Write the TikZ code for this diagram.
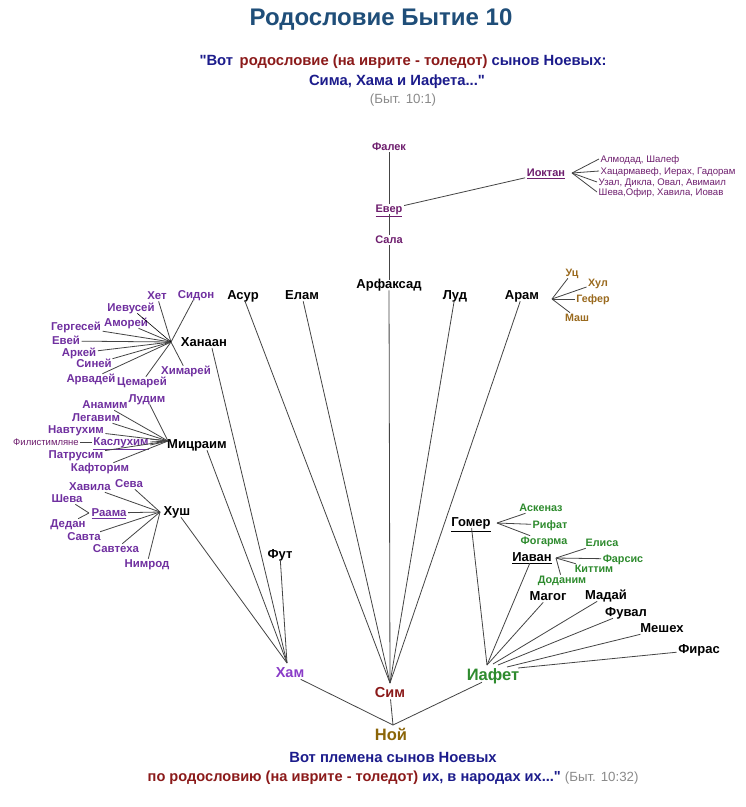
\documentclass[tikz,border=0pt]{standalone}
\usepackage{fontspec}
\setmainfont{Liberation Sans}[Ligatures=TeXOff]
\usetikzlibrary{calc}
\definecolor{titleblue}{HTML}{1F4E79}
\definecolor{navy}{HTML}{1C1C8C}
\definecolor{dred}{HTML}{8B1A1A}
\definecolor{grayt}{HTML}{8A8A8A}
\definecolor{kpur}{HTML}{7030A0}
\definecolor{hampur}{HTML}{8A3CC8}
\definecolor{mag}{HTML}{6E1E6E}
\definecolor{brn}{HTML}{9A6A1E}
\definecolor{grn}{HTML}{2E8B2E}
\definecolor{noyc}{HTML}{8B6508}
\definecolor{lnc}{HTML}{444444}
\newcommand{\dq}{{\char34}}
\begin{document}
\begin{tikzpicture}[x=1pt,y=-1pt,
 every node/.style={inner sep=1.5pt, text height=.72em, text depth=0pt},
 mainn/.style={font=\fontsize{13}{15}\selectfont\bfseries, text=black},
 kid/.style={font=\fontsize{11.4}{13}\selectfont\bfseries, text=kpur},
 semk/.style={font=\fontsize{11}{13}\selectfont\bfseries, text=mag},
 smallk/.style={font=\fontsize{9.6}{11}\selectfont, text=mag, anchor=west},
 brk/.style={font=\fontsize{10.7}{12}\selectfont\bfseries, text=brn},
 grk/.style={font=\fontsize{10.8}{12}\selectfont\bfseries, text=grn},
 sonn/.style={font=\fontsize{14.5}{17}\selectfont\bfseries},
 bigson/.style={font=\fontsize{16.5}{19}\selectfont\bfseries},
 qfont/.style={font=\fontsize{14.8}{17}\selectfont\bfseries},
 reff/.style={font=\fontsize{13.3}{15}\selectfont, text=grayt},
 conn/.style={draw=lnc, line width=0.8pt}
]
\fill[white] (0,0) rectangle (746,807);
\useasboundingbox (0,0) rectangle (746,807);

% ---------- headings ----------
\node[font=\fontsize{24}{28}\selectfont\bfseries, text=titleblue] (title) at (381,22) {Родословие Бытие 10};
\node[qfont] (q1) at (403,62) {\textcolor{navy}{\dq Вот}\, \textcolor{dred}{родословие (на иврите - толедот)} \textcolor{navy}{сынов Ноевых:}};
\node[qfont, text=navy] (q2) at (397,82) {Сима, Хама и Иафета...\dq};
\node[reff] (q3) at (403,100) {(Быт. 10:1)};

% ---------- Sem line upward ----------
\node[semk] (falek) at (389,147) {Фалек};
\node[semk] (ever) at (389,209) {\underline{Евер}};
\node[semk] (sala) at (389,240) {Сала};
\node[semk] (ioktan) at (546,173) {\underline{Иоктан}};
\coordinate (iokhub) at (572,173);
\node[smallk] (k1) at (599,159) {Алмодад, Шалеф};
\node[smallk] (k2) at (599,171) {Хацармавеф, Иерах, Гадорам};
\node[smallk] (k3) at (597,182) {Узал, Дикла, Овал, Авимаил};
\node[smallk] (k4) at (597,192) {Шева,Офир, Хавила, Иовав};

% ---------- Sem sons ----------
\node[mainn] (asur) at (243,296) {Асур};
\node[mainn] (elam) at (302,296) {Елам};
\node[mainn] (arf) at (389,285) {Арфаксад};
\node[mainn] (lud) at (455,296) {Луд};
\node[mainn] (aram) at (522,296) {Арам};
\coordinate (aramhub) at (552,299);
\node[brk] (uts) at (572,273) {Уц};
\node[brk] (khul) at (598,283) {Хул};
\node[brk] (gefer) at (593,299) {Гефер};
\node[brk] (mash) at (577,318) {Маш};

% ---------- Ham: Khanaan ----------
\node[mainn] (khanaan) at (204,343) {Ханаан};
\coordinate (khhub) at (171,342);
\node[kid] (het) at (157,296) {Хет};
\node[kid] (sidon) at (196,295) {Сидон};
\node[kid] (ievusey) at (131,308) {Иевусей};
\node[kid] (amorey) at (126,323) {Аморей};
\node[kid] (gergesey) at (76,327) {Гергесей};
\node[kid] (evey) at (66,341) {Евей};
\node[kid] (arkey) at (79,353) {Аркей};
\node[kid] (siney) at (94,364) {Синей};
\node[kid] (arvadey) at (91,379) {Арвадей};
\node[kid] (tsemarey) at (142,382) {Цемарей};
\node[kid] (himarey) at (186,371) {Химарей};

% ---------- Ham: Mitsraim ----------
\node[mainn] (mits) at (197,445) {Мицраим};
\coordinate (mhub) at (168,441);
\node[kid] (ludim) at (147,399) {Лудим};
\node[kid] (anamim) at (105,405) {Анамим};
\node[kid] (legavim) at (96,418) {Легавим};
\node[kid] (navtuhim) at (76,430) {Навтухим};
\node[kid] (kasl) at (121,442) {\underline{Каслухим}};
\node[font=\fontsize{9.5}{11}\selectfont, text=mag] (filist) at (46,442) {Филистимляне};
\node[kid] (patrusim) at (76,455) {Патрусим};
\node[kid] (kaftorim) at (100,468) {Кафторим};

% ---------- Ham: Khush ----------
\node[mainn] (khush) at (177,512) {Хуш};
\coordinate (khushhub) at (160,512);
\node[kid] (seva) at (129,484) {Сева};
\node[kid] (havila) at (90,487) {Хавила};
\node[kid] (sheva) at (67,499) {Шева};
\node[kid] (raama) at (109,513) {\underline{Раама}};
\coordinate (raamal) at (89,513);
\node[kid] (dedan) at (68,524) {Дедан};
\node[kid] (savta) at (84,537) {Савта};
\node[kid] (savteha) at (116,549) {Савтеха};
\node[kid] (nimrod) at (147,564) {Нимрод};
\node[mainn] (fut) at (280,555) {Фут};

% ---------- Japheth ----------
\node[mainn] (gomer) at (471,523) {\underline{Гомер}};
\coordinate (gomhub) at (497,523);
\node[grk] (askenaz) at (541,508) {Аскеназ};
\node[grk] (rifat) at (550,525) {Рифат};
\node[grk] (fogarma) at (544,541) {Фогарма};
\node[mainn] (iavan) at (532,558) {\underline{Иаван}};
\coordinate (iavhub) at (556,558);
\node[grk] (elisa) at (602,543) {Елиса};
\node[grk] (farsis) at (623,559) {Фарсис};
\node[grk] (kittim) at (594,569) {Киттим};
\node[grk] (dodanim) at (562,580) {Доданим};
\node[mainn] (magog) at (548,597) {Магог};
\node[mainn] (maday) at (606,596) {Мадай};
\node[mainn] (fuval) at (626,613) {Фувал};
\node[mainn] (meshekh) at (662,629) {Мешех};
\node[mainn] (firas) at (699,650) {Фирас};

% ---------- sons of Noah ----------
\node[sonn, text=hampur] (ham) at (290,674) {Хам};
\node[sonn, text=dred] (sim) at (390,694) {Сим};
\node[bigson, text=grn] (iafet) at (493,677) {Иафет};
\node[bigson, text=noyc] (noy) at (391,737) {Ной};
\coordinate (hamtop) at (287,663);
\coordinate (simtop) at (390,683);
\coordinate (ia1) at (487,665);
\coordinate (ia2) at (493,664);
\coordinate (ia3) at (498,665);
\coordinate (ia4) at (507,667);
\coordinate (ia5) at (518,668);
\coordinate (noyhub) at (393,725);

% ---------- bottom text ----------
\node[qfont, text=navy] (b1) at (393,759) {Вот племена сынов Ноевых};
\node[font=\fontsize{14.6}{17}\selectfont\bfseries, anchor=west] (b2) at (146,778) {\textcolor{dred}{по родословию (на иврите - толедот)} \textcolor{navy}{их, в народах их...\dq}\ {\mdseries\fontsize{13.3}{15}\selectfont\textcolor{grayt}{(Быт. 10:32)}}};

% ---------- connectors ----------
\draw[conn] (falek) -- (ever);
\draw[conn] (ever) -- (sala);
\draw[conn] (sala) -- (arf);
\draw[conn] (ever) -- (ioktan);
\foreach \k in {k1,k2,k3,k4} \draw[conn] (iokhub) -- (\k.west);

\foreach \n in {asur,elam,arf,lud,aram} \draw[conn] (\n) -- (simtop);
\foreach \n in {uts,khul,gefer,mash} \draw[conn] (aramhub) -- (\n);

\foreach \n in {het,sidon,amorey,gergesey,evey,arkey,siney,arvadey,tsemarey,himarey} \draw[conn] (\n) -- (khhub);
\draw[black, line width=0.6pt] (ievusey) -- (khhub);

\foreach \n in {ludim,anamim,legavim,navtuhim,patrusim,kaftorim} \draw[conn] (\n) -- (mhub);
\draw[conn] ([yshift=-3]kasl.east) -- (mhub);
\draw[conn] (kasl.east) -- (mhub);
\draw[conn] ([yshift=3]kasl.east) -- (mhub);
\draw[conn] (filist) -- (kasl);

\foreach \n in {seva,havila,raama,savta,savteha,nimrod} \draw[conn] (\n) -- (khushhub);
\draw[conn] (sheva) -- (raamal);
\draw[conn] (dedan) -- (raamal);

\draw[conn] ([xshift=8]khanaan.south) -- (hamtop);
\draw[conn] ([xshift=10]mits.south) -- (hamtop);
\draw[conn] ([xshift=4]khush.south) -- (hamtop);
\draw[conn] (fut) -- (hamtop);

\foreach \n in {askenaz,rifat,fogarma} \draw[conn] (gomhub) -- (\n);
\foreach \n in {elisa,farsis,kittim,dodanim} \draw[conn] (iavhub) -- (\n);
\draw[conn] (gomer) -- (ia1);
\draw[conn] (iavan) -- (ia1);
\draw[conn] (magog) -- (ia1);
\draw[conn] (maday) -- (ia2);
\draw[conn] (fuval) -- (ia3);
\draw[conn] (meshekh) -- (ia4);
\draw[conn] (firas) -- (ia5);

\draw[conn] (ham) -- (noyhub);
\draw[conn] (sim) -- (noyhub);
\draw[conn] (iafet) -- (noyhub);
\end{tikzpicture}
\end{document}
